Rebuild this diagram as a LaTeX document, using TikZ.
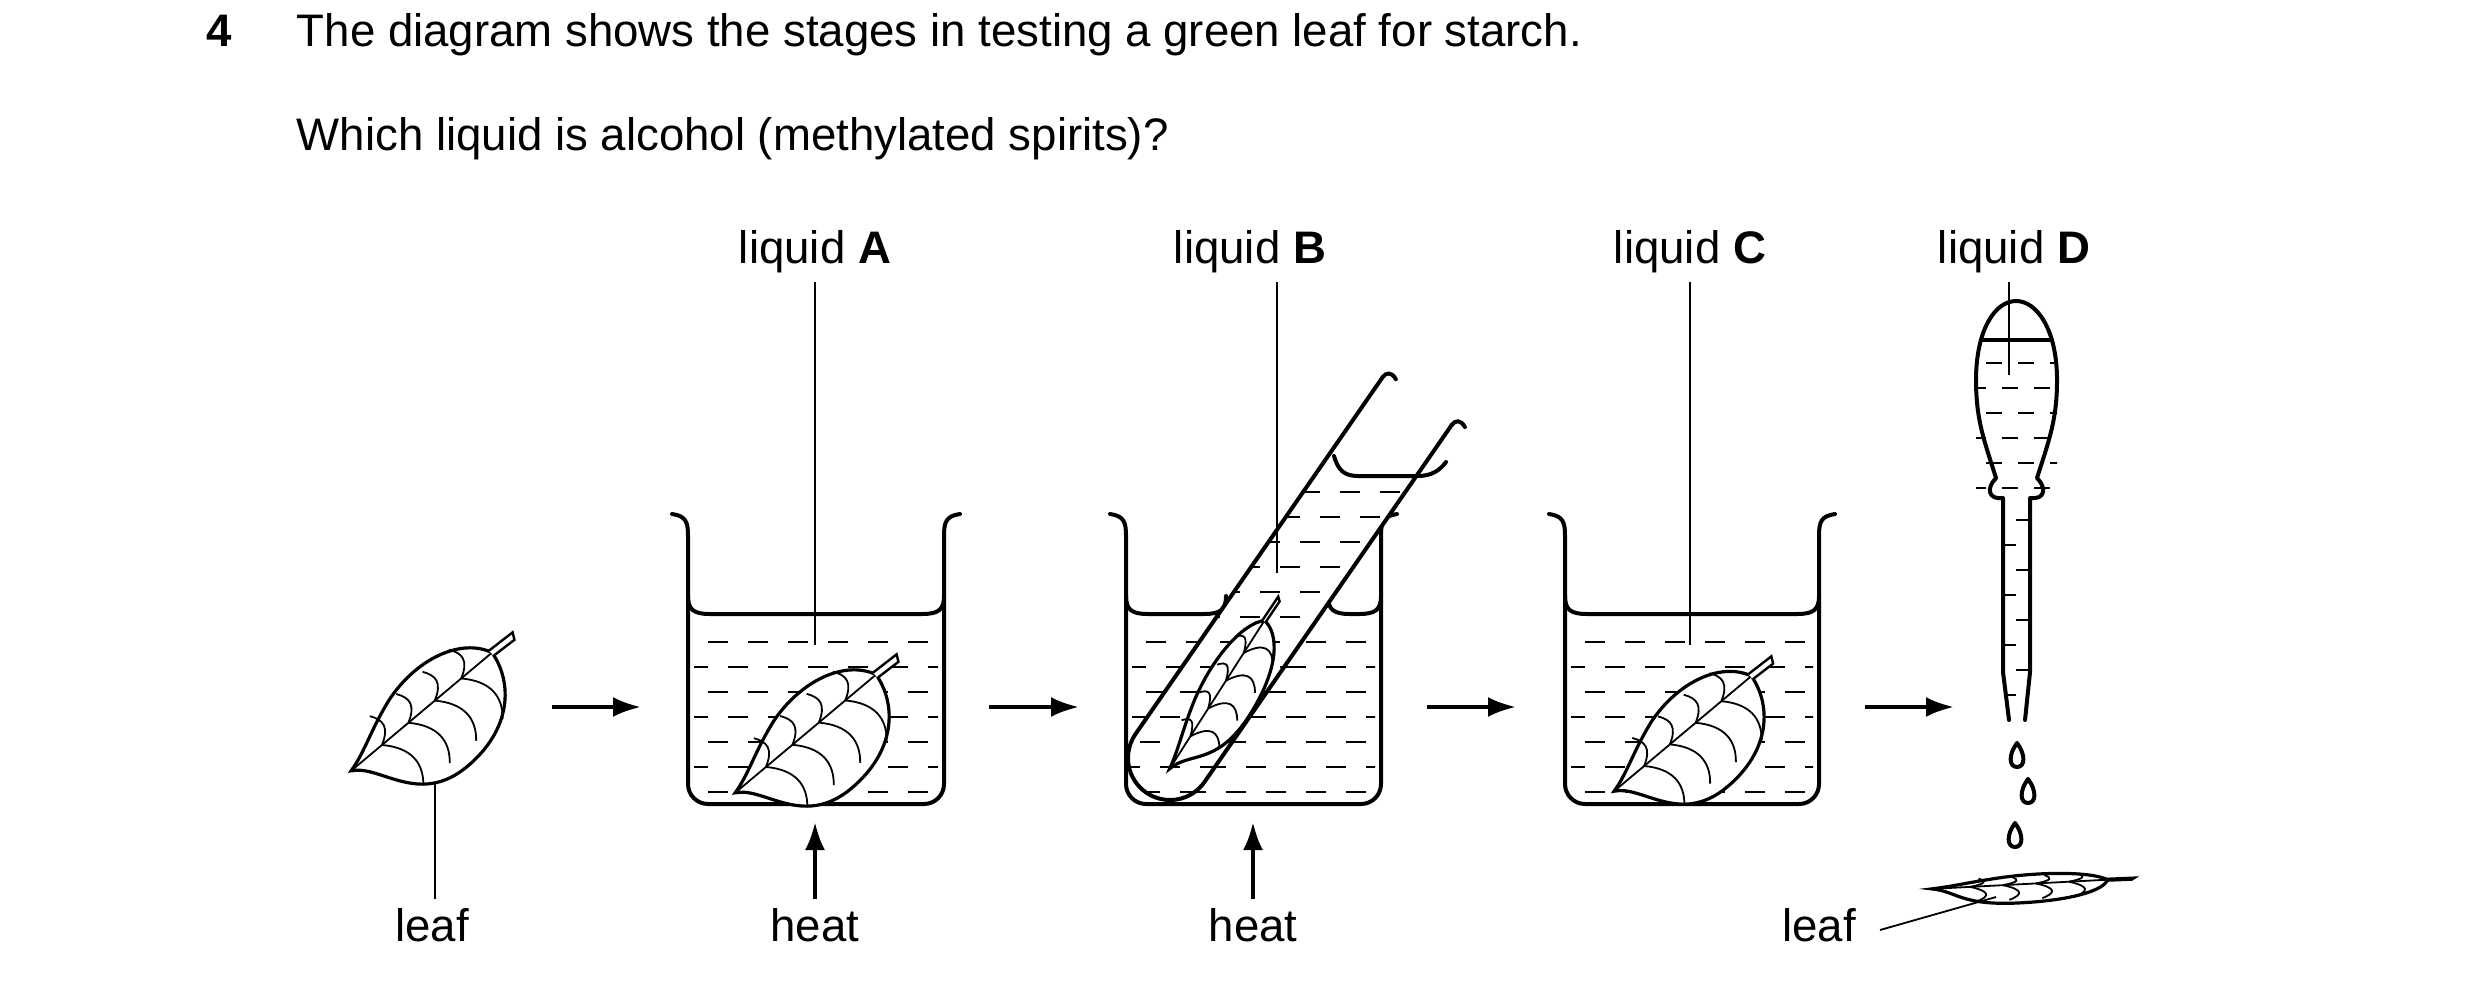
\documentclass[tikz,border=0pt]{standalone}
\usepackage{fontspec}
\setmainfont{Liberation Sans}
\usetikzlibrary{arrows.meta}

\tikzset{
  wall/.style={line width=1pt, line cap=round, line join=round},
  thin/.style={line width=0.45pt},
  liq/.style={line width=0.5pt, dash pattern=on 5pt off 5pt},
  lbl/.style={font=\fontsize{11.4}{13}\selectfont, anchor=base, inner sep=0pt},
  stagearrow/.style={line width=1pt, -{Latex[length=7pt,width=5pt]}},
  leaf/.pic={
    \draw[line width=0.8pt, fill=white] (-85,0) .. controls (-62,12) and (-60,62) .. (-5,62)
      .. controls (45,62) and (72,32) .. (75,0)
      .. controls (62,-28) and (20,-38) .. (-20,-26)
      .. controls (-50,-16) and (-65,-5) .. (-85,0) -- cycle;
    \draw[line width=0.6pt, fill=white] (74,3) -- (97,4) -- (100,-2) -- (74,-3);
    \draw[thin] (-82,0) -- (74,0);
    \foreach \t in {-50,-20,10,40} {
      \draw[thin] (\t,0) .. controls (\t+18,18) and (\t+18,35) .. (\t+5,50);
      \draw[thin] (\t,0) .. controls (\t+15,-8) and (\t+15,-16) .. (\t+8,-26);
    }
  }
}

% beaker: left x, right x
\newcommand{\beaker}[2]{%
  \draw[wall] (#1-16,514) .. controls (#1-2,516) and (#1,522) .. (#1,536) -- (#1,784)
    arc (180:90:20) -- (#2-20,804) arc (90:0:20) -- (#2,536)
    .. controls (#2,522) and (#2+2,516) .. (#2+16,514);
}
% liquid dashes inside a beaker
\newcommand{\beakerliquid}[2]{%
  \begin{scope}
    \clip (#1+6,620) rectangle (#2-6,798);
    \foreach \r [count=\i] in {642,667,...,792} {
      \pgfmathsetmacro{\ph}{mod(\i,2)*5}
      \draw[liq, dash phase=\ph pt] (#1,\r) -- (#2,\r);
    }
  \end{scope}
}
% flat meniscus from x1 to x2
\newcommand{\surface}[2]{%
  \draw[wall] (#1,596) .. controls (#1,610) and (#1+6,614) .. (#1+22,614) -- (#2-22,614)
    .. controls (#2-6,614) and (#2,610) .. (#2,596);
}

\begin{document}
\begin{tikzpicture}[x=0.25pt,y=-0.25pt]
\useasboundingbox (0,0) rectangle (2480,984);

% question
\node[lbl, font=\fontsize{11.4}{13}\selectfont\bfseries] (num) at (219,47) {4};
\node[lbl, anchor=base west] (q1) at (296,47) {The diagram shows the stages in testing a green leaf for starch.};
\node[lbl, anchor=base west] (q2) at (296,151) {Which liquid is alcohol (methylated spirits)?};

% stage 1: leaf
\coordinate (leafA) at (435,722);
\coordinate (leafAend) at (435,899);
\draw[thin] (leafA) -- (leafAend);
\pic[rotate=40, scale=1.15] at (426,708) {leaf};
\node[lbl] (leaf1) at (432,941) {leaf};

% stage 2: beaker with liquid A
\beakerliquid{688}{944}
\surface{688}{944}
\beaker{688}{944}
\pic[rotate=40, scale=1.15] at (810,730) {leaf};
\node[lbl] (liqA) at (815,264) {liquid \textbf{A}};
\coordinate (liqAend) at (815,645);
\draw[thin] (815,282) -- (liqAend);
\node[lbl] (heat1) at (815,941) {heat};
\draw[stagearrow] (815,899) -- (815,822);

% stage 3: beaker with tube, liquid B
\beakerliquid{1126}{1381}
\surface{1126}{1226}
\surface{1328}{1381}
\beaker{1126}{1381}
\begin{scope}
  \clip[shift={(1170,758)}, rotate=55.3] (0,-42) -- (434,-42) -- (434,42) -- (0,42) arc (90:270:42) -- cycle;
  \fill[white] (1000,300) rectangle (1500,850);
  \begin{scope}
    \clip (1000,476) rectangle (1500,850);
    \foreach \r [count=\i] in {492,517,...,792} {
      \pgfmathsetmacro{\ph}{mod(\i,2)*5}
      \draw[liq, dash phase=\ph pt] (1080,\r) -- (1480,\r);
    }
  \end{scope}
\end{scope}
\begin{scope}[shift={(1170,758)}, rotate=55.3]
  \draw[wall] (434,42) .. controls (440,42) and (444,46) .. (440,54);
  \draw[wall] (434,-42) .. controls (440,-42) and (444,-38) .. (440,-30);
  \draw[wall] (434,42) -- (0,42) arc (90:270:42) -- (434,-42);
\end{scope}
% tube surface
\draw[wall] (1334,456) .. controls (1338,470) and (1344,476) .. (1358,476) -- (1418,476)
  .. controls (1432,476) and (1440,470) .. (1446,462);
\pic[rotate=57.4, xscale=1.1, yscale=0.62] at (1220,690) {leaf};
\node[lbl] (liqB) at (1250,264) {liquid \textbf{B}};
\coordinate (liqBend) at (1277,573);
\draw[thin] (1277,282) -- (liqBend);
\node[lbl] (heat2) at (1253,941) {heat};
\draw[stagearrow] (1253,899) -- (1253,822);

% stage 4: beaker with liquid C
\beakerliquid{1565}{1819}
\surface{1565}{1819}
\beaker{1565}{1819}
\pic[rotate=40, scale=1.12] at (1687,730) {leaf};
\node[lbl] (liqC) at (1690,264) {liquid \textbf{C}};
\coordinate (liqCend) at (1690,645);
\draw[thin] (1690,282) -- (liqCend);

% stage 5: dropper with liquid D
\begin{scope}
  \clip (1976,340) rectangle (2057,498);
  \foreach \r [count=\i] in {363,388,...,488} {
    \pgfmathsetmacro{\ph}{mod(\i,2)*4}
    \draw[thin, dash pattern=on 4pt off 4pt, dash phase=\ph pt] (1970,\r) -- (2060,\r);
  }
\end{scope}
\foreach \r [count=\i] in {520,545,...,700} {
  \ifodd\i
    \draw[thin] (2016,\r) -- (2030,\r);
  \else
    \draw[thin] (2004,\r) -- (2016,\r);
  \fi
}
\draw[wall] (2003,506) -- (2003,498) .. controls (1988,500) and (1986,488) .. (1996,478)
  .. controls (1984,440) and (1976,420) .. (1976,380)
  .. controls (1976,330) and (1995,301) .. (2016,301)
  .. controls (2037,301) and (2057,330) .. (2057,380)
  .. controls (2057,420) and (2049,440) .. (2037,478)
  .. controls (2047,488) and (2045,500) .. (2030,498) -- (2030,506);
\draw[wall] (2003,506) -- (2003,672) -- (2009,720);
\draw[wall] (2030,506) -- (2030,672) -- (2025,720);
\draw[wall] (1981,340) -- (2052,340);
\node[lbl] (liqD) at (2014,264) {liquid \textbf{D}};
\coordinate (liqDend) at (2009,375);
\draw[thin] (2009,282) -- (liqDend);
\foreach \x/\y in {2017/755, 2028/791, 2015/835}
  \draw[wall] (\x,\y-12) .. controls (\x+9,\y) and (\x+8,\y+12) .. (\x,\y+12)
    .. controls (\x-8,\y+12) and (\x-9,\y) .. (\x,\y-12);
\pic[rotate=3, xscale=1.1, yscale=0.3] at (2025,884) {leaf};
\node[lbl] (leaf2) at (1819,941) {leaf};
\coordinate (leafBend) at (1996,897);
\draw[thin] (1880,930) -- (leafBend);

% arrows between stages
\foreach \a/\b in {552/641, 989/1079, 1427/1516, 1865/1954}
  \draw[stagearrow] (\a,707) -- (\b,707);
\end{tikzpicture}
\end{document}
